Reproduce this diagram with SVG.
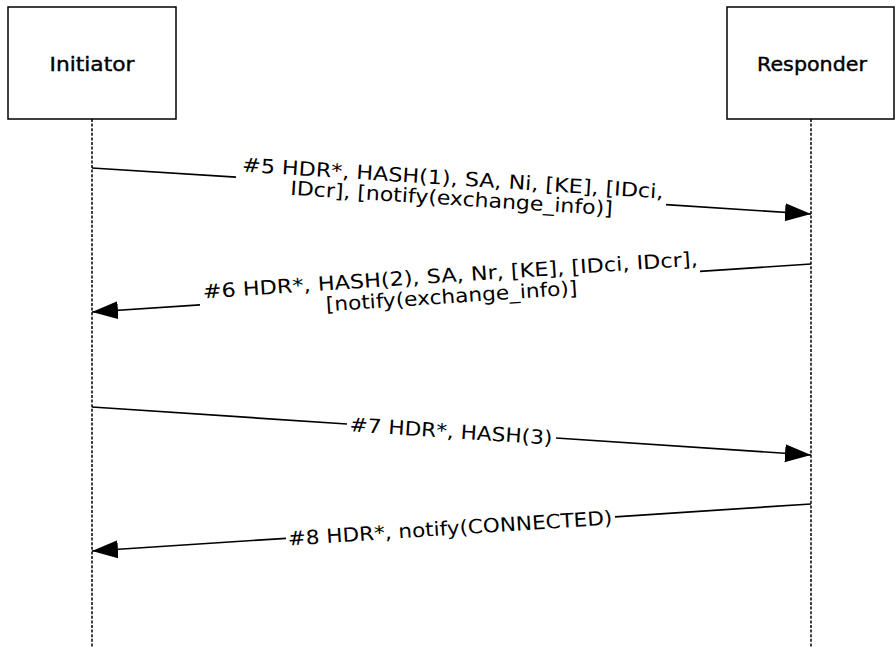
<svg xmlns="http://www.w3.org/2000/svg" width="895" height="647" viewBox="0 0 895 647">
<style>
.box{fill:#fff;stroke:#000;stroke-width:1.5}
.life{stroke:#000;stroke-width:1.5;stroke-dasharray:3 1.6;fill:none}
.msg{stroke:#000;stroke-width:1.7;fill:none}
.lbl{font-family:"DejaVu Sans","Liberation Sans",sans-serif;font-size:19.5px;fill:#000;text-anchor:middle}
.name{font-family:"DejaVu Sans","Liberation Sans",sans-serif;font-size:19px;fill:#000;stroke:#000;stroke-width:0.4;text-anchor:middle}
</style>
<defs>
<marker id="ah" markerUnits="userSpaceOnUse" markerWidth="28" markerHeight="20" refX="26" refY="9" orient="auto">
<path d="M0,0 L26,9 L0,18 Z" fill="#000"/>
</marker>
</defs>
<rect width="895" height="647" fill="#fff"/>
<g id="initiator">
<rect class="box" x="8" y="7" width="168" height="112"/>
<text class="name" x="92" y="71" textLength="85" lengthAdjust="spacingAndGlyphs">Initiator</text>
<line class="life" x1="92" y1="119" x2="92" y2="647"/>
</g>
<g id="responder">
<rect class="box" x="727" y="7" width="167" height="112"/>
<text class="name" x="812" y="71" textLength="110" lengthAdjust="spacingAndGlyphs">Responder</text>
<line class="life" x1="811" y1="119" x2="811" y2="647"/>
</g>
<g id="connectors">
<line class="msg" x1="92" y1="168" x2="236" y2="177.2"/>
<line class="msg" x1="666" y1="204.7" x2="811" y2="214" marker-end="url(#ah)"/>
<line class="msg" x1="811" y1="264" x2="700" y2="271.4"/>
<line class="msg" x1="200" y1="304.8" x2="92" y2="312" marker-end="url(#ah)"/>
<line class="msg" x1="92" y1="407" x2="347" y2="424"/>
<line class="msg" x1="556" y1="438" x2="811" y2="455" marker-end="url(#ah)"/>
<line class="msg" x1="811" y1="504" x2="615" y2="516.8"/>
<line class="msg" x1="286" y1="538.3" x2="92" y2="551" marker-end="url(#ah)"/>
</g>
<g id="labels">
<g transform="translate(452,191) rotate(3.66)">
<text class="lbl" x="0" y="-6" textLength="422" lengthAdjust="spacingAndGlyphs">#5 HDR*, HASH(1), SA, Ni, [KE], [IDci,</text>
<text class="lbl" x="0" y="14" textLength="323" lengthAdjust="spacingAndGlyphs">IDcr], [notify(exchange_info)]</text>
</g>
<g transform="translate(451,288) rotate(-3.82)">
<text class="lbl" x="0" y="-6" textLength="496" lengthAdjust="spacingAndGlyphs">#6 HDR*, HASH(2), SA, Nr, [KE], [IDci, IDcr],</text>
<text class="lbl" x="0" y="15" textLength="252" lengthAdjust="spacingAndGlyphs">[notify(exchange_info)]</text>
</g>
<g transform="translate(451,431) rotate(3.82)">
<text class="lbl" x="0" y="7" textLength="203" lengthAdjust="spacingAndGlyphs">#7 HDR*, HASH(3)</text>
</g>
<g transform="translate(450,528) rotate(-3.74)">
<text class="lbl" x="0" y="7" textLength="325" lengthAdjust="spacingAndGlyphs">#8 HDR*, notify(CONNECTED)</text>
</g>
</g>
</svg>
